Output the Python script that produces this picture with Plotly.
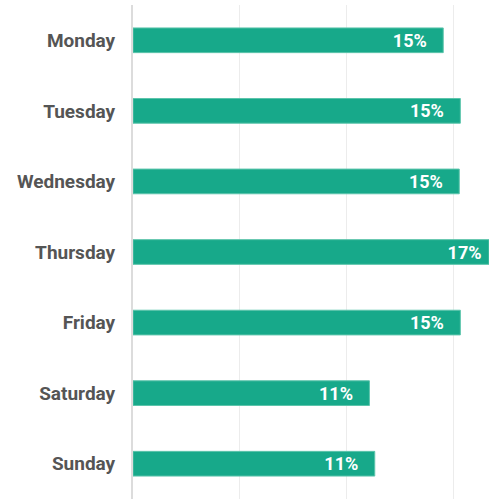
import plotly.graph_objects as go

days = ["Monday", "Tuesday", "Wednesday", "Thursday", "Friday", "Saturday", "Sunday"]
values = [14.5, 15.3, 15.25, 16.64, 15.3, 11.05, 11.3]
labels = ["15%", "15%", "15%", "17%", "15%", "11%", "11%"]

pad = ["\u00a0" * (1 if v >= 16.6 else 3) for v in values]

fig = go.Figure(go.Bar(
    x=values,
    y=days,
    orientation="h",
    text=[l + p for l, p in zip(labels, pad)],
    textposition="inside",
    insidetextanchor="end",
    constraintext="none",
    textangle=0,
    insidetextfont=dict(color="white", size=18, family="Roboto", weight="bold"),
    marker=dict(color="#17a98a", line=dict(color="#5cc4ab", width=1)),
    width=0.35,
    hoverinfo="skip",
))

fig.update_layout(
    width=489, height=499,
    margin=dict(l=133, r=0, t=5, b=0),
    plot_bgcolor="white", paper_bgcolor="white",
    showlegend=False,
)
fig.update_xaxes(range=[0, 16.64], showticklabels=False, dtick=5, tick0=0,
                 showgrid=True, gridcolor="#ececec", gridwidth=1,
                 zeroline=False, showline=False, fixedrange=True)
fig.update_yaxes(autorange="reversed", showline=True, linecolor="#dcdcdc", linewidth=2,
                 ticks="", ticklabelstandoff=12,
                 tickfont=dict(family="Roboto", size=19, color="#555555", weight="bold"),
                 fixedrange=True)

fig.write_html(
    "out.html",
    config={"displayModeBar": False, "staticPlot": True},
    post_script="document.body.style.margin='0';document.body.style.overflow='hidden';",
)
